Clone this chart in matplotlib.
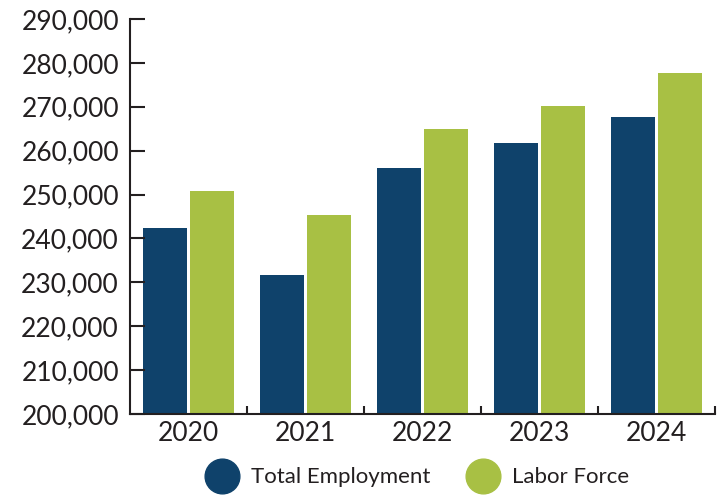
import matplotlib.pyplot as plt
import numpy as np
from matplotlib.lines import Line2D

plt.rcParams['font.family'] = ['Lato', 'DejaVu Sans']

years = ["2020", "2021", "2022", "2023", "2024"]
total_employment = [242400, 231700, 256000, 261700, 267700]
labor_force = [250800, 245300, 264900, 270200, 277600]

navy = "#0F426B"
green = "#A8C044"
ink = "#231F20"

fig = plt.figure(figsize=(7.27, 4.95), dpi=100)
ax = fig.add_axes([0.1788, 0.1636, 0.8047, 0.798])

x = np.arange(len(years))
w = 0.368
ax.bar(x - w / 2 - 0.017, total_employment, w, color=navy)
ax.bar(x + w / 2 + 0.017, labor_force, w, color=green)

ax.set_xlim(-0.5, 4.5)
ax.set_ylim(200000, 290000)
ax.set_yticks(range(200000, 290001, 10000))
ax.set_yticklabels([f"{v:,}" for v in range(200000, 290001, 10000)])

# category labels centred, tick marks between groups
ax.set_xticks(x)
ax.set_xticklabels(years)
ax.set_xticks(np.arange(0.5, 5, 1), minor=True)
ax.tick_params(axis='x', which='major', length=0, pad=5, labelsize=19, labelcolor=ink)
ax.tick_params(axis='x', which='minor', direction='in', length=6, width=1.5, color=ink)
ax.tick_params(axis='y', direction='in', length=11, width=1.5, color=ink,
               labelsize=19, labelcolor=ink, pad=8)

for s in ["top", "right"]:
    ax.spines[s].set_visible(False)
for s in ["left", "bottom"]:
    ax.spines[s].set_linewidth(1.5)
    ax.spines[s].set_color(ink)

handles = [
    Line2D([], [], marker='o', linestyle='', markersize=25, color=navy, label="Total Employment"),
    Line2D([], [], marker='o', linestyle='', markersize=25, color=green, label="Labor Force"),
]
fig.legend(handles=handles, loc='lower center', bbox_to_anchor=(0.57, -0.025), ncol=2,
           frameon=False, fontsize=16, labelcolor=ink, handletextpad=0.3, columnspacing=1.4)

fig.savefig("out.png", dpi=100)
